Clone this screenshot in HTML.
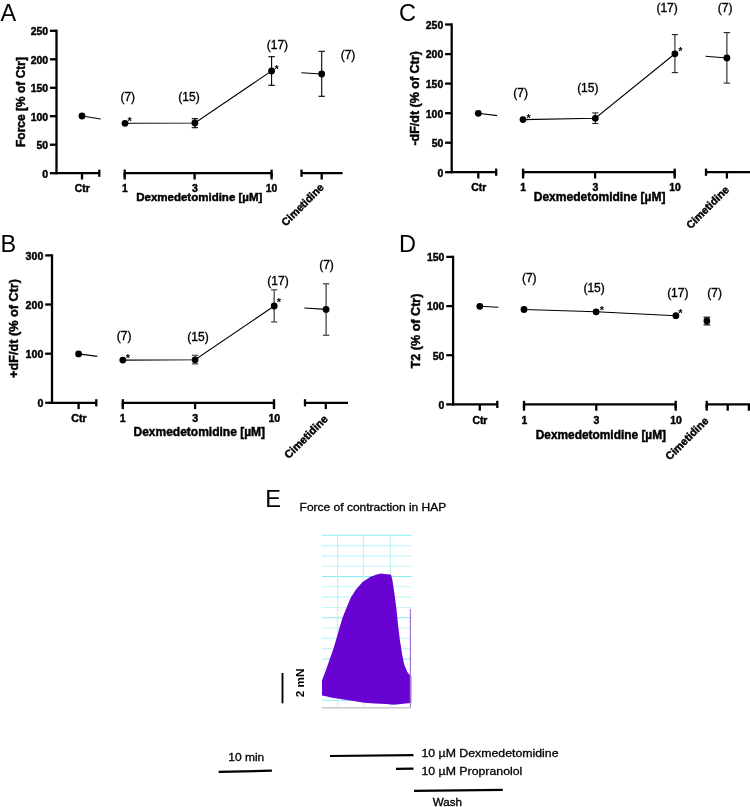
<!DOCTYPE html>
<html><head><meta charset="utf-8"><title>Figure</title>
<style>
html,body{margin:0;padding:0;background:#fff;}
body{width:750px;height:807px;overflow:hidden;}
svg{display:block;font-family:"Liberation Sans", sans-serif;will-change:transform;}
</style></head><body>
<svg width="750" height="807" viewBox="0 0 750 807">
<rect width="750" height="807" fill="#fff"/>
<line x1="56.50" y1="29.65" x2="56.50" y2="174.35" stroke="#000" stroke-width="2.3" stroke-linecap="butt"/>
<line x1="49.90" y1="30.80" x2="56.50" y2="30.80" stroke="#000" stroke-width="2.3" stroke-linecap="butt"/>
<text x="48.0" y="35.144" font-size="10.4" font-weight="bold" text-anchor="end" fill="#000" stroke="#000" stroke-width="0.45">250</text>
<line x1="49.90" y1="59.30" x2="56.50" y2="59.30" stroke="#000" stroke-width="2.3" stroke-linecap="butt"/>
<text x="48.0" y="63.644" font-size="10.4" font-weight="bold" text-anchor="end" fill="#000" stroke="#000" stroke-width="0.45">200</text>
<line x1="49.90" y1="87.80" x2="56.50" y2="87.80" stroke="#000" stroke-width="2.3" stroke-linecap="butt"/>
<text x="48.0" y="92.14399999999999" font-size="10.4" font-weight="bold" text-anchor="end" fill="#000" stroke="#000" stroke-width="0.45">150</text>
<line x1="49.90" y1="116.20" x2="56.50" y2="116.20" stroke="#000" stroke-width="2.3" stroke-linecap="butt"/>
<text x="48.0" y="120.544" font-size="10.4" font-weight="bold" text-anchor="end" fill="#000" stroke="#000" stroke-width="0.45">100</text>
<line x1="49.90" y1="144.70" x2="56.50" y2="144.70" stroke="#000" stroke-width="2.3" stroke-linecap="butt"/>
<text x="48.0" y="149.04399999999998" font-size="10.4" font-weight="bold" text-anchor="end" fill="#000" stroke="#000" stroke-width="0.45">50</text>
<line x1="49.90" y1="173.20" x2="56.50" y2="173.20" stroke="#000" stroke-width="2.3" stroke-linecap="butt"/>
<text x="48.0" y="177.54399999999998" font-size="10.4" font-weight="bold" text-anchor="end" fill="#000" stroke="#000" stroke-width="0.45">0</text>
<line x1="56.50" y1="173.20" x2="99.30" y2="173.20" stroke="#000" stroke-width="2.3" stroke-linecap="butt"/>
<line x1="99.30" y1="169.60" x2="99.30" y2="176.80" stroke="#000" stroke-width="2.3" stroke-linecap="butt"/>
<line x1="124.70" y1="173.20" x2="271.60" y2="173.20" stroke="#000" stroke-width="2.3" stroke-linecap="butt"/>
<line x1="124.70" y1="169.60" x2="124.70" y2="176.80" stroke="#000" stroke-width="2.3" stroke-linecap="butt"/>
<line x1="271.60" y1="169.60" x2="271.60" y2="176.80" stroke="#000" stroke-width="2.3" stroke-linecap="butt"/>
<line x1="301.50" y1="173.20" x2="342.60" y2="173.20" stroke="#000" stroke-width="2.3" stroke-linecap="butt"/>
<line x1="301.50" y1="169.60" x2="301.50" y2="176.80" stroke="#000" stroke-width="2.3" stroke-linecap="butt"/>
<line x1="82.00" y1="173.20" x2="82.00" y2="179.50" stroke="#000" stroke-width="2.3" stroke-linecap="butt"/>
<line x1="124.70" y1="173.20" x2="124.70" y2="179.50" stroke="#000" stroke-width="2.3" stroke-linecap="butt"/>
<line x1="194.60" y1="173.20" x2="194.60" y2="179.50" stroke="#000" stroke-width="2.3" stroke-linecap="butt"/>
<line x1="271.60" y1="173.20" x2="271.60" y2="179.50" stroke="#000" stroke-width="2.3" stroke-linecap="butt"/>
<line x1="321.70" y1="173.20" x2="321.70" y2="179.50" stroke="#000" stroke-width="2.3" stroke-linecap="butt"/>
<text x="82.2" y="191.6" font-size="10.4" font-weight="bold" text-anchor="middle" fill="#000" stroke="#000" stroke-width="0.45">Ctr</text>
<text x="125" y="191.6" font-size="10.4" font-weight="bold" text-anchor="middle" fill="#000" stroke="#000" stroke-width="0.45">1</text>
<text x="194.8" y="191.6" font-size="10.4" font-weight="bold" text-anchor="middle" fill="#000" stroke="#000" stroke-width="0.45">3</text>
<text x="271.5" y="191.6" font-size="10.4" font-weight="bold" text-anchor="middle" fill="#000" stroke="#000" stroke-width="0.45">10</text>
<text x="199.3" y="200.7" font-size="11.5" font-weight="bold" text-anchor="middle" fill="#000" stroke="#000" stroke-width="0.45">Dexmedetomidine [µM]</text>
<text x="24.9" y="102" font-size="12.0" font-weight="bold" text-anchor="middle" fill="#000" stroke="#000" stroke-width="0.45" transform="rotate(-90 24.9 102)">Force [% of Ctr]</text>
<text x="324.5" y="188" font-size="10.7" font-weight="bold" text-anchor="end" fill="#000" stroke="#000" stroke-width="0.45" transform="rotate(-45 324.5 188)">Cimetidine</text>
<polyline points="82,116 100.7,119" fill="none" stroke="#000" stroke-width="1.1"/>
<polyline points="125,123.3 194.9,123 271.6,70.9" fill="none" stroke="#000" stroke-width="1.1"/>
<polyline points="301.3,72.8 321.7,74" fill="none" stroke="#000" stroke-width="1.1"/>
<line x1="194.90" y1="118.70" x2="194.90" y2="127.70" stroke="#000" stroke-width="1.1" stroke-linecap="butt"/>
<line x1="191.75" y1="118.70" x2="198.05" y2="118.70" stroke="#000" stroke-width="1.1" stroke-linecap="butt"/>
<line x1="191.75" y1="127.70" x2="198.05" y2="127.70" stroke="#000" stroke-width="1.1" stroke-linecap="butt"/>
<line x1="271.60" y1="56.70" x2="271.60" y2="85.30" stroke="#000" stroke-width="1.1" stroke-linecap="butt"/>
<line x1="268.35" y1="56.70" x2="274.85" y2="56.70" stroke="#000" stroke-width="1.1" stroke-linecap="butt"/>
<line x1="268.35" y1="85.30" x2="274.85" y2="85.30" stroke="#000" stroke-width="1.1" stroke-linecap="butt"/>
<line x1="321.70" y1="51.30" x2="321.70" y2="96.30" stroke="#000" stroke-width="1.1" stroke-linecap="butt"/>
<line x1="318.50" y1="51.30" x2="324.90" y2="51.30" stroke="#000" stroke-width="1.1" stroke-linecap="butt"/>
<line x1="318.50" y1="96.30" x2="324.90" y2="96.30" stroke="#000" stroke-width="1.1" stroke-linecap="butt"/>
<circle cx="82" cy="116" r="3.4" fill="#000"/>
<circle cx="125" cy="123.3" r="3.4" fill="#000"/>
<circle cx="194.9" cy="123" r="3.4" fill="#000"/>
<circle cx="271.6" cy="70.9" r="3.4" fill="#000"/>
<circle cx="321.7" cy="74" r="3.4" fill="#000"/>
<text x="129.7" y="125.1" font-size="11" font-weight="bold" text-anchor="middle" fill="#000">*</text>
<text x="276.7" y="72.5" font-size="11" font-weight="bold" text-anchor="middle" fill="#000">*</text>
<text x="127.8" y="100.6" font-size="12" font-weight="normal" text-anchor="middle" fill="#000" stroke="#000" stroke-width="0.35">(7)</text>
<text x="189" y="100.6" font-size="12" font-weight="normal" text-anchor="middle" fill="#000" stroke="#000" stroke-width="0.35">(15)</text>
<text x="277.4" y="49.0" font-size="12" font-weight="normal" text-anchor="middle" fill="#000" stroke="#000" stroke-width="0.35">(17)</text>
<text x="348" y="58.8" font-size="12" font-weight="normal" text-anchor="middle" fill="#000" stroke="#000" stroke-width="0.35">(7)</text>
<text x="0.4" y="20.9" font-size="23.5" font-weight="normal" text-anchor="start" fill="#000">A</text>
<line x1="52.00" y1="254.25" x2="52.00" y2="403.95" stroke="#000" stroke-width="2.3" stroke-linecap="butt"/>
<line x1="45.20" y1="255.40" x2="52.00" y2="255.40" stroke="#000" stroke-width="2.3" stroke-linecap="butt"/>
<text x="43.300000000000004" y="259.81600000000003" font-size="10.6" font-weight="bold" text-anchor="end" fill="#000" stroke="#000" stroke-width="0.45">300</text>
<line x1="45.20" y1="304.50" x2="52.00" y2="304.50" stroke="#000" stroke-width="2.3" stroke-linecap="butt"/>
<text x="43.300000000000004" y="308.916" font-size="10.6" font-weight="bold" text-anchor="end" fill="#000" stroke="#000" stroke-width="0.45">200</text>
<line x1="45.20" y1="353.70" x2="52.00" y2="353.70" stroke="#000" stroke-width="2.3" stroke-linecap="butt"/>
<text x="43.300000000000004" y="358.116" font-size="10.6" font-weight="bold" text-anchor="end" fill="#000" stroke="#000" stroke-width="0.45">100</text>
<line x1="45.20" y1="402.80" x2="52.00" y2="402.80" stroke="#000" stroke-width="2.3" stroke-linecap="butt"/>
<text x="43.300000000000004" y="407.216" font-size="10.6" font-weight="bold" text-anchor="end" fill="#000" stroke="#000" stroke-width="0.45">0</text>
<line x1="52.00" y1="402.80" x2="96.30" y2="402.80" stroke="#000" stroke-width="2.3" stroke-linecap="butt"/>
<line x1="96.30" y1="399.20" x2="96.30" y2="406.40" stroke="#000" stroke-width="2.3" stroke-linecap="butt"/>
<line x1="122.80" y1="402.80" x2="274.00" y2="402.80" stroke="#000" stroke-width="2.3" stroke-linecap="butt"/>
<line x1="122.80" y1="399.20" x2="122.80" y2="406.40" stroke="#000" stroke-width="2.3" stroke-linecap="butt"/>
<line x1="274.00" y1="399.20" x2="274.00" y2="406.40" stroke="#000" stroke-width="2.3" stroke-linecap="butt"/>
<line x1="305.00" y1="402.80" x2="348.00" y2="402.80" stroke="#000" stroke-width="2.3" stroke-linecap="butt"/>
<line x1="305.00" y1="399.20" x2="305.00" y2="406.40" stroke="#000" stroke-width="2.3" stroke-linecap="butt"/>
<line x1="78.60" y1="402.80" x2="78.60" y2="409.10" stroke="#000" stroke-width="2.3" stroke-linecap="butt"/>
<line x1="122.80" y1="402.80" x2="122.80" y2="409.10" stroke="#000" stroke-width="2.3" stroke-linecap="butt"/>
<line x1="195.10" y1="402.80" x2="195.10" y2="409.10" stroke="#000" stroke-width="2.3" stroke-linecap="butt"/>
<line x1="274.00" y1="402.80" x2="274.00" y2="409.10" stroke="#000" stroke-width="2.3" stroke-linecap="butt"/>
<line x1="325.80" y1="402.80" x2="325.80" y2="409.10" stroke="#000" stroke-width="2.3" stroke-linecap="butt"/>
<text x="79" y="422.2" font-size="10.6" font-weight="bold" text-anchor="middle" fill="#000" stroke="#000" stroke-width="0.45">Ctr</text>
<text x="122.8" y="422.2" font-size="10.6" font-weight="bold" text-anchor="middle" fill="#000" stroke="#000" stroke-width="0.45">1</text>
<text x="195.1" y="422.2" font-size="10.6" font-weight="bold" text-anchor="middle" fill="#000" stroke="#000" stroke-width="0.45">3</text>
<text x="274.3" y="422.2" font-size="10.6" font-weight="bold" text-anchor="middle" fill="#000" stroke="#000" stroke-width="0.45">10</text>
<text x="199.3" y="436.3" font-size="12" font-weight="bold" text-anchor="middle" fill="#000" stroke="#000" stroke-width="0.45">Dexmedetomidine [µM]</text>
<text x="17.7" y="328.5" font-size="12.7" font-weight="bold" text-anchor="middle" fill="#000" stroke="#000" stroke-width="0.45" transform="rotate(-90 17.7 328.5)">+dF/dt (% of Ctr)</text>
<text x="328.5" y="419.6" font-size="11" font-weight="bold" text-anchor="end" fill="#000" stroke="#000" stroke-width="0.45" transform="rotate(-45 328.5 419.6)">Cimetidine</text>
<polyline points="78.6,353.9 97.3,356.4" fill="none" stroke="#000" stroke-width="1.1"/>
<polyline points="122.8,360.1 195.1,359.8 274.2,306" fill="none" stroke="#000" stroke-width="1.1"/>
<polyline points="304.3,308 326.1,309.4" fill="none" stroke="#000" stroke-width="1.1"/>
<line x1="195.10" y1="355.40" x2="195.10" y2="363.80" stroke="#555" stroke-width="1.4" stroke-linecap="butt"/>
<line x1="191.90" y1="355.40" x2="198.30" y2="355.40" stroke="#555" stroke-width="1.4" stroke-linecap="butt"/>
<line x1="191.90" y1="363.80" x2="198.30" y2="363.80" stroke="#555" stroke-width="1.4" stroke-linecap="butt"/>
<line x1="274.20" y1="289.80" x2="274.20" y2="321.90" stroke="#555" stroke-width="1.4" stroke-linecap="butt"/>
<line x1="271.10" y1="289.80" x2="277.30" y2="289.80" stroke="#555" stroke-width="1.4" stroke-linecap="butt"/>
<line x1="271.10" y1="321.90" x2="277.30" y2="321.90" stroke="#555" stroke-width="1.4" stroke-linecap="butt"/>
<line x1="326.10" y1="283.80" x2="326.10" y2="335.30" stroke="#555" stroke-width="1.4" stroke-linecap="butt"/>
<line x1="322.90" y1="283.80" x2="329.30" y2="283.80" stroke="#555" stroke-width="1.4" stroke-linecap="butt"/>
<line x1="322.90" y1="335.30" x2="329.30" y2="335.30" stroke="#555" stroke-width="1.4" stroke-linecap="butt"/>
<circle cx="78.6" cy="353.9" r="3.4" fill="#000"/>
<circle cx="122.8" cy="360.1" r="3.4" fill="#000"/>
<circle cx="195.1" cy="359.8" r="3.4" fill="#000"/>
<circle cx="274.2" cy="306" r="3.4" fill="#000"/>
<circle cx="326.1" cy="309.4" r="3.4" fill="#000"/>
<text x="127.8" y="361.8" font-size="11" font-weight="bold" text-anchor="middle" fill="#000">*</text>
<text x="278.9" y="305.7" font-size="11" font-weight="bold" text-anchor="middle" fill="#000">*</text>
<text x="124.1" y="339.7" font-size="12" font-weight="normal" text-anchor="middle" fill="#000" stroke="#000" stroke-width="0.35">(7)</text>
<text x="198" y="341.3" font-size="12" font-weight="normal" text-anchor="middle" fill="#000" stroke="#000" stroke-width="0.35">(15)</text>
<text x="278" y="284.8" font-size="12" font-weight="normal" text-anchor="middle" fill="#000" stroke="#000" stroke-width="0.35">(17)</text>
<text x="326.5" y="269.3" font-size="12" font-weight="normal" text-anchor="middle" fill="#000" stroke="#000" stroke-width="0.35">(7)</text>
<text x="0.6" y="252" font-size="23.5" font-weight="normal" text-anchor="start" fill="#000">B</text>
<line x1="451.70" y1="23.35" x2="451.70" y2="173.35" stroke="#000" stroke-width="2.3" stroke-linecap="butt"/>
<line x1="445.10" y1="24.50" x2="451.70" y2="24.50" stroke="#000" stroke-width="2.3" stroke-linecap="butt"/>
<text x="443.2" y="28.844" font-size="10.4" font-weight="bold" text-anchor="end" fill="#000" stroke="#000" stroke-width="0.45">250</text>
<line x1="445.10" y1="54.10" x2="451.70" y2="54.10" stroke="#000" stroke-width="2.3" stroke-linecap="butt"/>
<text x="443.2" y="58.444" font-size="10.4" font-weight="bold" text-anchor="end" fill="#000" stroke="#000" stroke-width="0.45">200</text>
<line x1="445.10" y1="83.60" x2="451.70" y2="83.60" stroke="#000" stroke-width="2.3" stroke-linecap="butt"/>
<text x="443.2" y="87.94399999999999" font-size="10.4" font-weight="bold" text-anchor="end" fill="#000" stroke="#000" stroke-width="0.45">150</text>
<line x1="445.10" y1="113.20" x2="451.70" y2="113.20" stroke="#000" stroke-width="2.3" stroke-linecap="butt"/>
<text x="443.2" y="117.544" font-size="10.4" font-weight="bold" text-anchor="end" fill="#000" stroke="#000" stroke-width="0.45">100</text>
<line x1="445.10" y1="142.70" x2="451.70" y2="142.70" stroke="#000" stroke-width="2.3" stroke-linecap="butt"/>
<text x="443.2" y="147.04399999999998" font-size="10.4" font-weight="bold" text-anchor="end" fill="#000" stroke="#000" stroke-width="0.45">50</text>
<line x1="445.10" y1="172.20" x2="451.70" y2="172.20" stroke="#000" stroke-width="2.3" stroke-linecap="butt"/>
<text x="443.2" y="176.54399999999998" font-size="10.4" font-weight="bold" text-anchor="end" fill="#000" stroke="#000" stroke-width="0.45">0</text>
<line x1="451.70" y1="172.20" x2="496.20" y2="172.20" stroke="#000" stroke-width="2.3" stroke-linecap="butt"/>
<line x1="496.20" y1="168.60" x2="496.20" y2="175.80" stroke="#000" stroke-width="2.3" stroke-linecap="butt"/>
<line x1="523.10" y1="172.20" x2="674.70" y2="172.20" stroke="#000" stroke-width="2.3" stroke-linecap="butt"/>
<line x1="523.10" y1="168.60" x2="523.10" y2="175.80" stroke="#000" stroke-width="2.3" stroke-linecap="butt"/>
<line x1="674.70" y1="168.60" x2="674.70" y2="175.80" stroke="#000" stroke-width="2.3" stroke-linecap="butt"/>
<line x1="706.00" y1="172.20" x2="750.00" y2="172.20" stroke="#000" stroke-width="2.3" stroke-linecap="butt"/>
<line x1="706.00" y1="168.60" x2="706.00" y2="175.80" stroke="#000" stroke-width="2.3" stroke-linecap="butt"/>
<line x1="478.30" y1="172.20" x2="478.30" y2="178.50" stroke="#000" stroke-width="2.3" stroke-linecap="butt"/>
<line x1="523.10" y1="172.20" x2="523.10" y2="178.50" stroke="#000" stroke-width="2.3" stroke-linecap="butt"/>
<line x1="595.10" y1="172.20" x2="595.10" y2="178.50" stroke="#000" stroke-width="2.3" stroke-linecap="butt"/>
<line x1="674.70" y1="172.20" x2="674.70" y2="178.50" stroke="#000" stroke-width="2.3" stroke-linecap="butt"/>
<line x1="726.90" y1="172.20" x2="726.90" y2="178.50" stroke="#000" stroke-width="2.3" stroke-linecap="butt"/>
<text x="478.7" y="191.4" font-size="10.4" font-weight="bold" text-anchor="middle" fill="#000" stroke="#000" stroke-width="0.45">Ctr</text>
<text x="523.1" y="191.4" font-size="10.4" font-weight="bold" text-anchor="middle" fill="#000" stroke="#000" stroke-width="0.45">1</text>
<text x="595.3" y="191.4" font-size="10.4" font-weight="bold" text-anchor="middle" fill="#000" stroke="#000" stroke-width="0.45">3</text>
<text x="675" y="191.4" font-size="10.4" font-weight="bold" text-anchor="middle" fill="#000" stroke="#000" stroke-width="0.45">10</text>
<text x="599.6" y="200.9" font-size="12" font-weight="bold" text-anchor="middle" fill="#000" stroke="#000" stroke-width="0.45">Dexmedetomidine [µM]</text>
<text x="419.4" y="98.4" font-size="12.5" font-weight="bold" text-anchor="middle" fill="#000" stroke="#000" stroke-width="0.45" transform="rotate(-90 419.4 98.4)">-dF/dt (% of Ctr)</text>
<text x="729.7" y="190.4" font-size="10.8" font-weight="bold" text-anchor="end" fill="#000" stroke="#000" stroke-width="0.45" transform="rotate(-45 729.7 190.4)">Cimetidine</text>
<polyline points="478.3,113.3 497.2,115.6" fill="none" stroke="#000" stroke-width="1.1"/>
<polyline points="523,119.6 595.3,118.3 674.9,53.8" fill="none" stroke="#000" stroke-width="1.1"/>
<polyline points="705.5,56.2 726.9,58" fill="none" stroke="#000" stroke-width="1.1"/>
<line x1="595.30" y1="112.90" x2="595.30" y2="123.50" stroke="#222" stroke-width="1.1" stroke-linecap="butt"/>
<line x1="592.20" y1="112.90" x2="598.40" y2="112.90" stroke="#222" stroke-width="1.1" stroke-linecap="butt"/>
<line x1="592.20" y1="123.50" x2="598.40" y2="123.50" stroke="#222" stroke-width="1.1" stroke-linecap="butt"/>
<line x1="674.90" y1="34.60" x2="674.90" y2="72.60" stroke="#222" stroke-width="1.1" stroke-linecap="butt"/>
<line x1="671.80" y1="34.60" x2="678.00" y2="34.60" stroke="#222" stroke-width="1.1" stroke-linecap="butt"/>
<line x1="671.80" y1="72.60" x2="678.00" y2="72.60" stroke="#222" stroke-width="1.1" stroke-linecap="butt"/>
<line x1="726.90" y1="32.60" x2="726.90" y2="83.10" stroke="#222" stroke-width="1.1" stroke-linecap="butt"/>
<line x1="723.65" y1="32.60" x2="730.15" y2="32.60" stroke="#222" stroke-width="1.1" stroke-linecap="butt"/>
<line x1="723.65" y1="83.10" x2="730.15" y2="83.10" stroke="#222" stroke-width="1.1" stroke-linecap="butt"/>
<circle cx="478.3" cy="113.3" r="3.4" fill="#000"/>
<circle cx="523" cy="119.6" r="3.4" fill="#000"/>
<circle cx="595.3" cy="118.3" r="3.4" fill="#000"/>
<circle cx="674.9" cy="53.8" r="3.4" fill="#000"/>
<circle cx="726.9" cy="58" r="3.4" fill="#000"/>
<text x="528.7" y="121.5" font-size="11" font-weight="bold" text-anchor="middle" fill="#000">*</text>
<text x="680.3" y="55.0" font-size="11" font-weight="bold" text-anchor="middle" fill="#000">*</text>
<text x="520.6" y="97.3" font-size="12" font-weight="normal" text-anchor="middle" fill="#000" stroke="#000" stroke-width="0.35">(7)</text>
<text x="587.8" y="92.2" font-size="12" font-weight="normal" text-anchor="middle" fill="#000" stroke="#000" stroke-width="0.35">(15)</text>
<text x="667.1" y="11.8" font-size="12" font-weight="normal" text-anchor="middle" fill="#000" stroke="#000" stroke-width="0.35">(17)</text>
<text x="725.1" y="11.8" font-size="12" font-weight="normal" text-anchor="middle" fill="#000" stroke="#000" stroke-width="0.35">(7)</text>
<text x="399" y="20.9" font-size="23.5" font-weight="normal" text-anchor="start" fill="#000">C</text>
<line x1="453.10" y1="255.75" x2="453.10" y2="405.55" stroke="#000" stroke-width="2.3" stroke-linecap="butt"/>
<line x1="446.20" y1="256.90" x2="453.10" y2="256.90" stroke="#000" stroke-width="2.3" stroke-linecap="butt"/>
<text x="444.30000000000007" y="261.244" font-size="10.4" font-weight="bold" text-anchor="end" fill="#000" stroke="#000" stroke-width="0.45">150</text>
<line x1="446.20" y1="306.10" x2="453.10" y2="306.10" stroke="#000" stroke-width="2.3" stroke-linecap="butt"/>
<text x="444.30000000000007" y="310.4440000000001" font-size="10.4" font-weight="bold" text-anchor="end" fill="#000" stroke="#000" stroke-width="0.45">100</text>
<line x1="446.20" y1="355.20" x2="453.10" y2="355.20" stroke="#000" stroke-width="2.3" stroke-linecap="butt"/>
<text x="444.30000000000007" y="359.544" font-size="10.4" font-weight="bold" text-anchor="end" fill="#000" stroke="#000" stroke-width="0.45">50</text>
<line x1="446.20" y1="404.40" x2="453.10" y2="404.40" stroke="#000" stroke-width="2.3" stroke-linecap="butt"/>
<text x="444.30000000000007" y="408.744" font-size="10.4" font-weight="bold" text-anchor="end" fill="#000" stroke="#000" stroke-width="0.45">0</text>
<line x1="453.10" y1="404.40" x2="497.30" y2="404.40" stroke="#000" stroke-width="2.3" stroke-linecap="butt"/>
<line x1="497.30" y1="400.80" x2="497.30" y2="408.00" stroke="#000" stroke-width="2.3" stroke-linecap="butt"/>
<line x1="524.00" y1="404.40" x2="675.70" y2="404.40" stroke="#000" stroke-width="2.3" stroke-linecap="butt"/>
<line x1="524.00" y1="400.80" x2="524.00" y2="408.00" stroke="#000" stroke-width="2.3" stroke-linecap="butt"/>
<line x1="675.70" y1="400.80" x2="675.70" y2="408.00" stroke="#000" stroke-width="2.3" stroke-linecap="butt"/>
<line x1="706.70" y1="404.40" x2="750.00" y2="404.40" stroke="#000" stroke-width="2.3" stroke-linecap="butt"/>
<line x1="706.70" y1="400.80" x2="706.70" y2="408.00" stroke="#000" stroke-width="2.3" stroke-linecap="butt"/>
<line x1="479.80" y1="404.40" x2="479.80" y2="410.70" stroke="#000" stroke-width="2.3" stroke-linecap="butt"/>
<line x1="524.00" y1="404.40" x2="524.00" y2="410.70" stroke="#000" stroke-width="2.3" stroke-linecap="butt"/>
<line x1="596.30" y1="404.40" x2="596.30" y2="410.70" stroke="#000" stroke-width="2.3" stroke-linecap="butt"/>
<line x1="675.70" y1="404.40" x2="675.70" y2="410.70" stroke="#000" stroke-width="2.3" stroke-linecap="butt"/>
<line x1="706.70" y1="404.40" x2="706.70" y2="410.70" stroke="#000" stroke-width="2.3" stroke-linecap="butt"/>
<line x1="727.70" y1="404.40" x2="727.70" y2="410.70" stroke="#000" stroke-width="2.3" stroke-linecap="butt"/>
<line x1="748.90" y1="404.40" x2="748.90" y2="410.70" stroke="#000" stroke-width="2.3" stroke-linecap="butt"/>
<text x="479.9" y="424" font-size="10.4" font-weight="bold" text-anchor="middle" fill="#000" stroke="#000" stroke-width="0.45">Ctr</text>
<text x="524.3" y="424" font-size="10.4" font-weight="bold" text-anchor="middle" fill="#000" stroke="#000" stroke-width="0.45">1</text>
<text x="596.4" y="424" font-size="10.4" font-weight="bold" text-anchor="middle" fill="#000" stroke="#000" stroke-width="0.45">3</text>
<text x="676" y="424" font-size="10.4" font-weight="bold" text-anchor="middle" fill="#000" stroke="#000" stroke-width="0.45">10</text>
<text x="600.9" y="438.7" font-size="11.9" font-weight="bold" text-anchor="middle" fill="#000" stroke="#000" stroke-width="0.45">Dexmedetomidine [µM]</text>
<text x="419.7" y="331" font-size="12.6" font-weight="bold" text-anchor="middle" fill="#000" stroke="#000" stroke-width="0.45" transform="rotate(-90 419.7 331)">T2 (% of Ctr)</text>
<text x="709.2" y="421.5" font-size="10.9" font-weight="bold" text-anchor="end" fill="#000" stroke="#000" stroke-width="0.45" transform="rotate(-45 709.2 421.5)">Cimetidine</text>
<polyline points="479.8,306.3 498.4,307.3" fill="none" stroke="#000" stroke-width="1.1"/>
<polyline points="524,309.5 596.1,311.8 675.9,315.7" fill="none" stroke="#000" stroke-width="1.1"/>
<line x1="706.90" y1="317.20" x2="706.90" y2="324.90" stroke="#000" stroke-width="1.1" stroke-linecap="butt"/>
<line x1="703.55" y1="317.20" x2="710.25" y2="317.20" stroke="#000" stroke-width="1.1" stroke-linecap="butt"/>
<line x1="703.55" y1="324.90" x2="710.25" y2="324.90" stroke="#000" stroke-width="1.1" stroke-linecap="butt"/>
<circle cx="479.8" cy="306.3" r="3.4" fill="#000"/>
<circle cx="524" cy="309.5" r="3.4" fill="#000"/>
<circle cx="596.1" cy="311.8" r="3.4" fill="#000"/>
<circle cx="675.9" cy="315.7" r="3.4" fill="#000"/>
<circle cx="706.9" cy="321" r="3.4" fill="#000"/>
<text x="601.8" y="313.7" font-size="11" font-weight="bold" text-anchor="middle" fill="#000">*</text>
<text x="680.4" y="317.0" font-size="11" font-weight="bold" text-anchor="middle" fill="#000">*</text>
<text x="529.3" y="282.2" font-size="12" font-weight="normal" text-anchor="middle" fill="#000" stroke="#000" stroke-width="0.35">(7)</text>
<text x="594.1" y="291.9" font-size="12" font-weight="normal" text-anchor="middle" fill="#000" stroke="#000" stroke-width="0.35">(15)</text>
<text x="677.8" y="297.4" font-size="12" font-weight="normal" text-anchor="middle" fill="#000" stroke="#000" stroke-width="0.35">(17)</text>
<text x="714.6" y="297.4" font-size="12" font-weight="normal" text-anchor="middle" fill="#000" stroke="#000" stroke-width="0.35">(7)</text>
<text x="399" y="252.2" font-size="23.5" font-weight="normal" text-anchor="start" fill="#000">D</text>
<text x="265.2" y="507.2" font-size="23.5" font-weight="normal" text-anchor="start" fill="#000">E</text>
<text x="299.6" y="511.2" font-size="11" font-weight="normal" text-anchor="start" fill="#000" stroke="#000" stroke-width="0.3" textLength="146.7" lengthAdjust="spacingAndGlyphs">Force of contraction in HAP</text>
<line x1="322.00" y1="535.30" x2="411.50" y2="535.30" stroke="#86eef2" stroke-width="1.1" stroke-linecap="butt"/>
<line x1="322.00" y1="545.60" x2="411.50" y2="545.60" stroke="#c3f7f9" stroke-width="1.1" stroke-linecap="butt"/>
<line x1="322.00" y1="555.91" x2="411.50" y2="555.91" stroke="#c3f7f9" stroke-width="1.1" stroke-linecap="butt"/>
<line x1="322.00" y1="566.21" x2="411.50" y2="566.21" stroke="#c3f7f9" stroke-width="1.1" stroke-linecap="butt"/>
<line x1="322.00" y1="576.52" x2="411.50" y2="576.52" stroke="#86eef2" stroke-width="1.1" stroke-linecap="butt"/>
<line x1="322.00" y1="586.82" x2="411.50" y2="586.82" stroke="#c3f7f9" stroke-width="1.1" stroke-linecap="butt"/>
<line x1="322.00" y1="597.13" x2="411.50" y2="597.13" stroke="#c3f7f9" stroke-width="1.1" stroke-linecap="butt"/>
<line x1="322.00" y1="607.43" x2="411.50" y2="607.43" stroke="#c3f7f9" stroke-width="1.1" stroke-linecap="butt"/>
<line x1="322.00" y1="617.74" x2="411.50" y2="617.74" stroke="#86eef2" stroke-width="1.1" stroke-linecap="butt"/>
<line x1="322.00" y1="628.04" x2="411.50" y2="628.04" stroke="#c3f7f9" stroke-width="1.1" stroke-linecap="butt"/>
<line x1="322.00" y1="638.35" x2="411.50" y2="638.35" stroke="#c3f7f9" stroke-width="1.1" stroke-linecap="butt"/>
<line x1="322.00" y1="648.65" x2="411.50" y2="648.65" stroke="#c3f7f9" stroke-width="1.1" stroke-linecap="butt"/>
<line x1="322.00" y1="658.96" x2="411.50" y2="658.96" stroke="#86eef2" stroke-width="1.1" stroke-linecap="butt"/>
<line x1="322.00" y1="669.26" x2="411.50" y2="669.26" stroke="#c3f7f9" stroke-width="1.1" stroke-linecap="butt"/>
<line x1="322.00" y1="679.57" x2="411.50" y2="679.57" stroke="#c3f7f9" stroke-width="1.1" stroke-linecap="butt"/>
<line x1="322.00" y1="689.88" x2="411.50" y2="689.88" stroke="#c3f7f9" stroke-width="1.1" stroke-linecap="butt"/>
<line x1="322.00" y1="700.18" x2="411.50" y2="700.18" stroke="#86eef2" stroke-width="1.1" stroke-linecap="butt"/>
<line x1="337.60" y1="535.30" x2="337.60" y2="707.50" stroke="#b4f5f8" stroke-width="1.1" stroke-linecap="butt"/>
<line x1="363.60" y1="535.30" x2="363.60" y2="707.50" stroke="#b4f5f8" stroke-width="1.1" stroke-linecap="butt"/>
<line x1="390.20" y1="535.30" x2="390.20" y2="707.50" stroke="#b4f5f8" stroke-width="1.1" stroke-linecap="butt"/>
<path d="M322,695.4 L322,680.5 L322.4,679.6 L326.2,669.2 L329.9,658.8 L333.6,648.3 L336.6,637.9 L339.6,627.5 L342.5,617.8 L346.3,608.2 L350.7,597.7 L355.9,589.6 L362.6,582.1 L370.1,576.9 L376,574.7 L381.2,573.4 L386.4,574.2 L390.9,574.4 L392.4,579.9 L394.6,594.8 L396.5,609.6 L398,624.5 L399.8,639.4 L402.1,654.3 L404.3,664.7 L407.3,672.1 L410.2,675.5 L411.3,676 L411.3,703 L405.3,703.4 L399,704.3 L393.6,704.7 L386.2,704.1 L375,703.4 L364.3,702.7 L355,701.3 L346.7,700 L339,698.8 L332,697.8 L327,696.4 Z" fill="#6903d2"/>
<line x1="410.40" y1="609.00" x2="410.40" y2="707.50" stroke="#a678d8" stroke-width="1.2" stroke-linecap="butt"/>
<line x1="322.00" y1="707.70" x2="411.30" y2="707.70" stroke="#c9c9c9" stroke-width="1.4" stroke-linecap="butt"/>
<line x1="282.50" y1="673.00" x2="282.50" y2="703.30" stroke="#000" stroke-width="1.9" stroke-linecap="butt"/>
<text x="304.5" y="682.9" font-size="11.2" font-weight="bold" text-anchor="middle" fill="#000" transform="rotate(-90 304.5 682.9)" textLength="28.6" lengthAdjust="spacingAndGlyphs">2 mN</text>
<text x="228.3" y="760.9" font-size="11.3" font-weight="normal" text-anchor="start" fill="#000" stroke="#000" stroke-width="0.3" textLength="36" lengthAdjust="spacingAndGlyphs">10 min</text>
<line x1="218.70" y1="771.80" x2="271.90" y2="770.70" stroke="#000" stroke-width="2.3" stroke-linecap="butt"/>
<line x1="330.00" y1="756.00" x2="413.50" y2="755.20" stroke="#000" stroke-width="2.2" stroke-linecap="butt"/>
<text x="421.5" y="756.8" font-size="11.4" font-weight="normal" text-anchor="start" fill="#000" stroke="#000" stroke-width="0.3" textLength="137" lengthAdjust="spacingAndGlyphs">10 µM Dexmedetomidine</text>
<line x1="396.00" y1="768.80" x2="413.50" y2="768.60" stroke="#000" stroke-width="2.2" stroke-linecap="butt"/>
<text x="421.5" y="774.6" font-size="11.4" font-weight="normal" text-anchor="start" fill="#000" stroke="#000" stroke-width="0.3" textLength="100.8" lengthAdjust="spacingAndGlyphs">10 µM Propranolol</text>
<line x1="414.00" y1="790.80" x2="502.80" y2="789.90" stroke="#000" stroke-width="2.2" stroke-linecap="butt"/>
<text x="432.8" y="805.7" font-size="11.4" font-weight="normal" text-anchor="start" fill="#000" stroke="#000" stroke-width="0.35" textLength="29.2" lengthAdjust="spacingAndGlyphs">Wash</text>
</svg></body></html>
